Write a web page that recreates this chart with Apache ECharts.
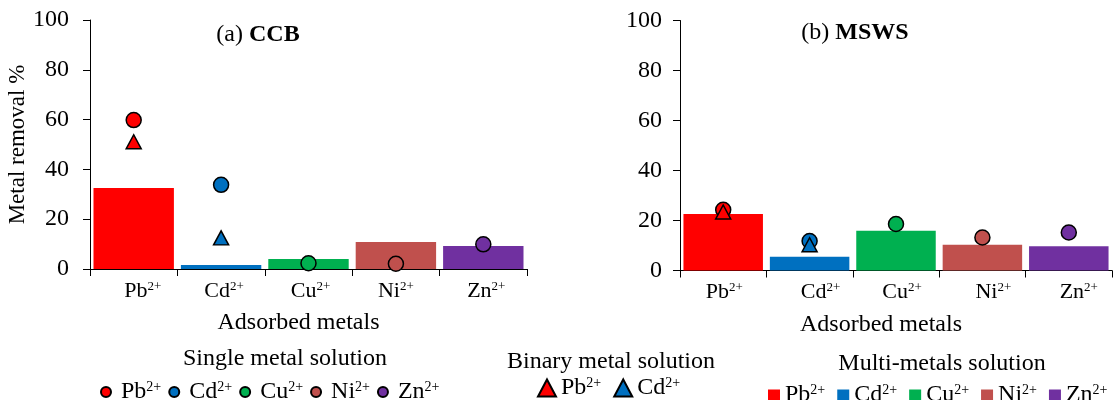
<!DOCTYPE html>
<html>
<head>
<meta charset="utf-8">
<script src="https://cdn.jsdelivr.net/npm/echarts@6/dist/echarts.min.js"></script>
<style>html,body{margin:0;padding:0;background:#fff;}#c{width:1115px;height:400px;}</style>
</head>
<body>
<div id="c"></div>
<script>
// ---- data ----
var metals = ['Pb', 'Cd', 'Cu', 'Ni', 'Zn'];
var charge = '2+';
var yTicks = [0, 20, 40, 60, 80, 100];
// CCB
var ccbMulti  = [32.5, 1.6, 4.0, 10.8, 9.2];
var ccbSingle = [59.8, 33.8, 2.3, 2.1, 9.9];
var ccbBinary = [51.1, 12.5];           // Pb, Cd
// MSWS
var mswsMulti  = [22.6, 5.5, 15.9, 10.3, 9.7];
var mswsSingle = [24.3, 11.8, 18.6, 13.2, 15.2];
var mswsBinary = [23.4, 10.3];          // Pb, Cd
var binaryMetals = ['Pb', 'Cd'];

// ---- style ----
var colors = {Pb: '#FF0000', Cd: '#0070C0', Cu: '#00B050', Ni: '#C0504D', Zn: '#7030A0'};
var FONT = 'Liberation Serif';
// horizontal nudge (px) of each category label, as in the original figure
var labelNudge = [[9, 3, 2, 0, 3], [1, 11, 6, 11, 10]];

var axisRich = {
  b: {fontSize: 22, fontFamily: FONT, color: '#000'},
  s: {fontSize: 13, fontFamily: FONT, color: '#000', padding: [0, 0, 9, 0]}
};
var legRich = {
  sp: {width: 5, fontSize: 24, fontFamily: FONT},
  b: {fontSize: 24, fontFamily: FONT, color: '#000'},
  s: {fontSize: 14, fontFamily: FONT, color: '#000', padding: [0, 0, 10, 0]}
};

function label(m) { return '{b|' + m + '}{s|' + charge + '}'; }

function makeGridSeries(gi, multi, single, binary) {
  var out = [];
  metals.forEach(function (m, i) {
    out.push({
      type: 'bar', name: 'm-' + m, xAxisIndex: gi, yAxisIndex: gi, stack: 'multi' + gi,
      barCategoryGap: '8%',
      itemStyle: {color: colors[m]},
      data: metals.map(function (_, j) { return j === i ? multi[j] : '-'; }),
      z: 1
    });
  });
  metals.forEach(function (m, i) {
    out.push({
      type: 'scatter', name: 's-' + m, xAxisIndex: gi, yAxisIndex: gi,
      symbol: 'circle', symbolSize: 15,
      itemStyle: {color: colors[m], borderColor: '#000', borderWidth: 1.5, opacity: 1},
      data: [[m, single[i]]],
      z: 3
    });
  });
  binaryMetals.forEach(function (m, i) {
    out.push({
      type: 'scatter', name: 'b-' + m, xAxisIndex: gi, yAxisIndex: gi,
      symbol: 'triangle', symbolSize: [15, 14],
      itemStyle: {color: colors[m], borderColor: '#000', borderWidth: 1.5, opacity: 1},
      data: [[m, binary[i]]],
      z: 4
    });
  });
  return out;
}

function xAxis(gi, nameShift) {
  return {
    type: 'category', gridIndex: gi,
    data: metals.map(function (m, i) {
      return {value: m, textStyle: {padding: [0, 0, 0, 2 * labelNudge[gi][i]]}};
    }),
    boundaryGap: true,
    axisLine: {show: true, lineStyle: {color: '#000', width: 1}},
    axisTick: {show: true, length: 7, lineStyle: {color: '#000'}},
    axisLabel: {margin: 11, interval: 0, hideOverlap: false, fontFamily: FONT, fontSize: 22, color: '#000',
      formatter: function (v) { return label(v); }, rich: axisRich},
    name: 'Adsorbed metals', nameLocation: 'middle', nameGap: 42,
    nameTextStyle: {fontFamily: FONT, fontSize: 24, color: '#000', padding: [0, nameShift, 0, 0]}
  };
}
function yAxis(gi, withName, margin) {
  return {
    type: 'value', gridIndex: gi, min: yTicks[0], max: yTicks[yTicks.length - 1], interval: 20,
    axisLine: {show: true, lineStyle: {color: '#000', width: 1}},
    axisTick: {show: true, length: 7, lineStyle: {color: '#000'}},
    splitLine: {show: false},
    axisLabel: {fontFamily: FONT, fontSize: 24, color: '#000', margin: margin},
    name: withName ? 'Metal removal %' : '', nameLocation: 'middle', nameGap: 58, nameRotate: 90,
    nameTextStyle: {fontFamily: FONT, fontSize: 23, color: '#000'}
  };
}

function legFmt(name) { return label(name.split('-')[1]); }
function legFmtSp(name) { return '{sp|}' + label(name.split('-')[1]); }
var legendText = {fontFamily: FONT, fontSize: 24, color: '#000', rich: legRich};
var titleStyle = {fontFamily: FONT, fontSize: 24, fontWeight: 'normal', color: '#000',
  rich: {bb: {fontFamily: FONT, fontSize: 24, fontWeight: 'bold', color: '#000'}}};

var option = {
  animation: false,
  backgroundColor: '#fff',
  textStyle: {fontFamily: FONT},
  grid: [
    {left: 90, top: 20, width: 437, height: 249},
    {left: 680, top: 20.5, width: 432, height: 250}
  ],
  xAxis: [xAxis(0, 20), xAxis(1, 30)],
  yAxis: [yAxis(0, true, 21), yAxis(1, false, 18)],
  title: [
    {text: '(a) {bb|CCB}', left: 253, top: 30, textAlign: 'center', textVerticalAlign: 'middle', textStyle: titleStyle},
    {text: '(b) {bb|MSWS}', left: 850, top: 28, textAlign: 'center', textVerticalAlign: 'middle', textStyle: titleStyle}
  ],
  graphic: [
    {type: 'text', x: 285, y: 359, style: {text: 'Single metal solution', fontFamily: FONT, fontSize: 24, fill: '#000', align: 'center', verticalAlign: 'middle'}},
    {type: 'text', x: 611, y: 362, style: {text: 'Binary metal solution', fontFamily: FONT, fontSize: 24, fill: '#000', align: 'center', verticalAlign: 'middle'}},
    {type: 'text', x: 942, y: 364, style: {text: 'Multi-metals solution', fontFamily: FONT, fontSize: 24, fill: '#000', align: 'center', verticalAlign: 'middle'}}
  ],
  legend: [
    {data: metals.map(function (m) { return 's-' + m; }), left: 100, top: 380, itemWidth: 10, itemHeight: 10,
     itemGap: 7, textStyle: legendText, formatter: legFmtSp, icon: 'circle', selectedMode: false, padding: 0},
    {data: binaryMetals.map(function (m) { return 'b-' + m; }), left: 537, top: 376, itemWidth: 18, itemHeight: 17,
     itemGap: 12, textStyle: legendText, formatter: legFmt, icon: 'triangle', selectedMode: false, padding: 0},
    {data: metals.map(function (m) { return 'm-' + m; }), left: 768, top: 383, itemWidth: 12, itemHeight: 11,
     itemGap: 12, textStyle: legendText, formatter: legFmt, icon: 'rect', selectedMode: false, padding: 0}
  ],
  series: [].concat(
    makeGridSeries(0, ccbMulti, ccbSingle, ccbBinary),
    makeGridSeries(1, mswsMulti, mswsSingle, mswsBinary)
  )
};

var chart = echarts.init(document.getElementById('c'), null, {renderer: 'canvas'});
chart.setOption(option);
</script>
</body>
</html>
